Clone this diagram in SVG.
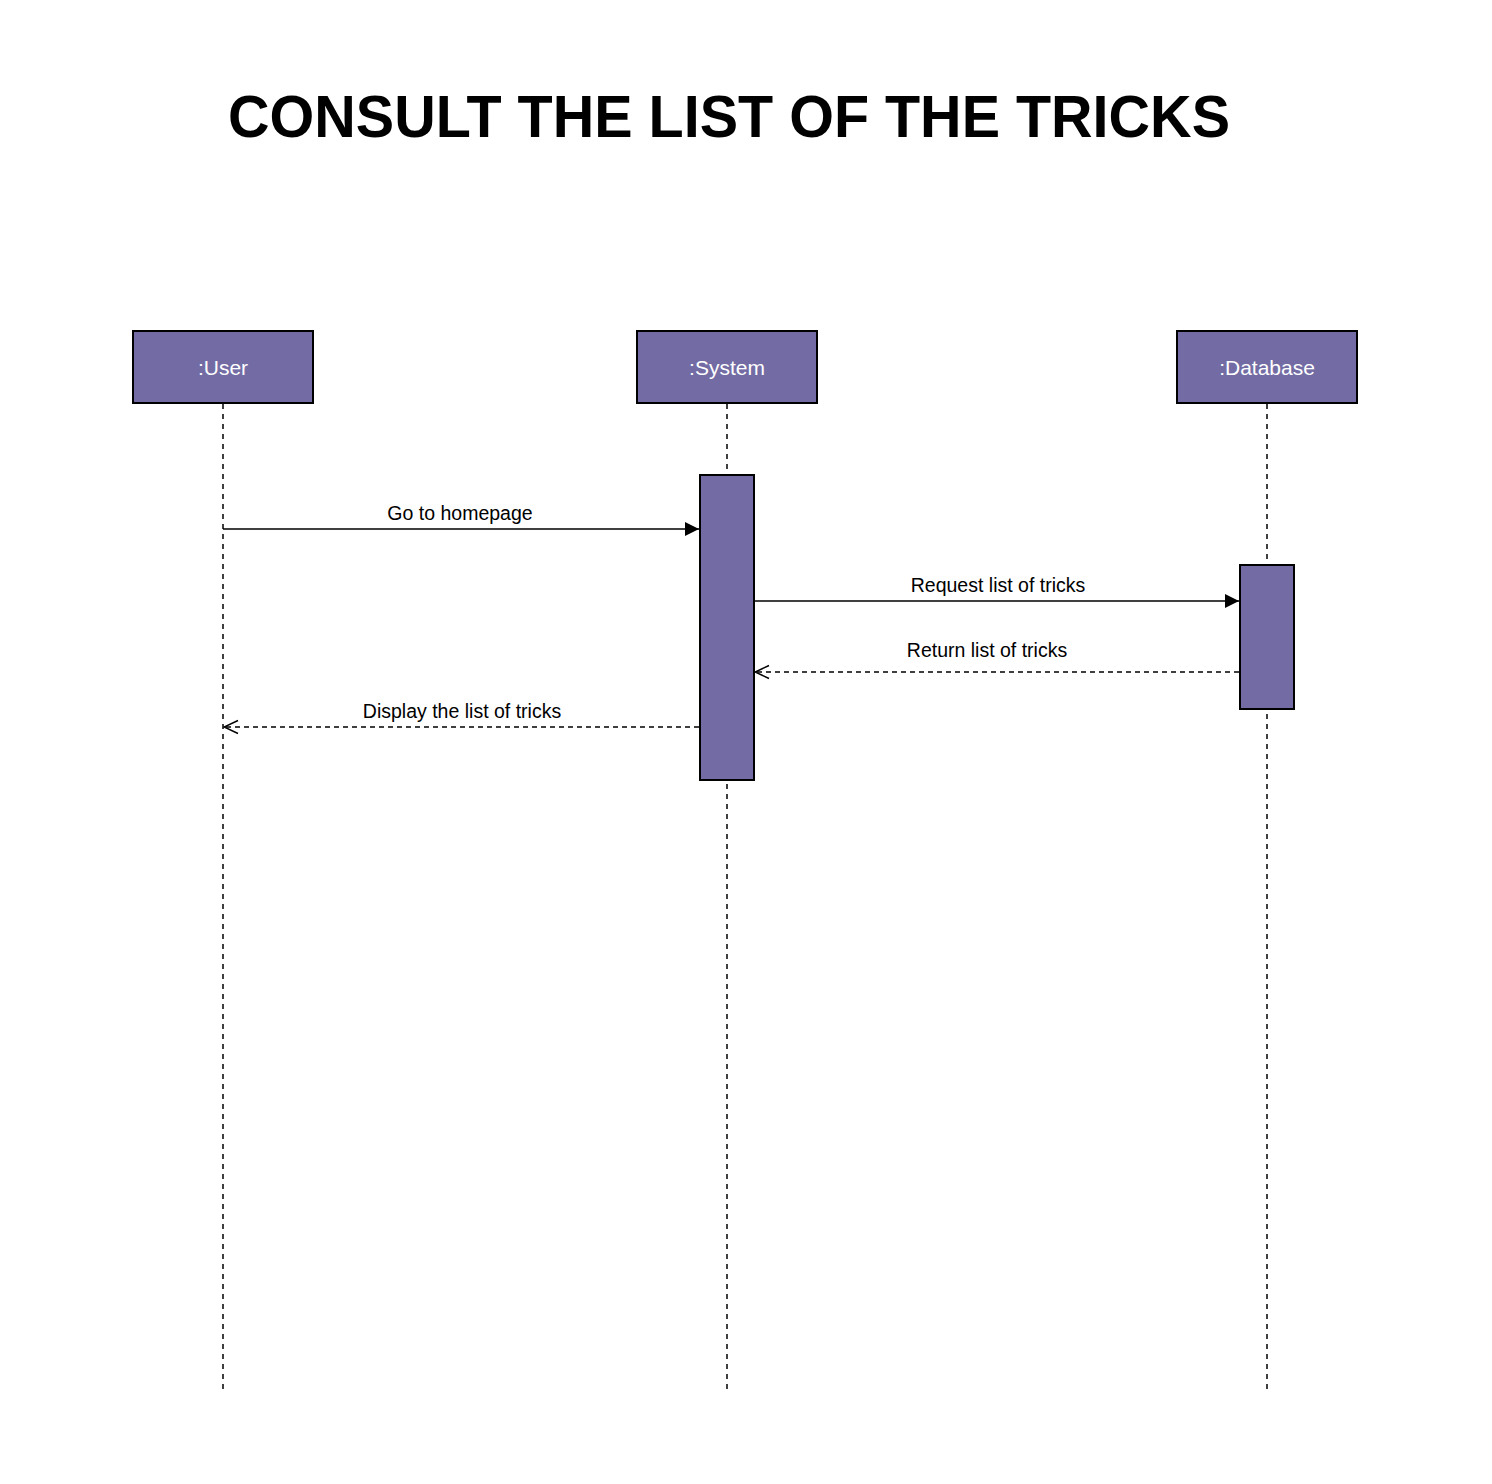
<svg xmlns="http://www.w3.org/2000/svg" width="1492" height="1484" viewBox="0 0 1492 1484">
<style>
.box{fill:#736ca4;stroke:#000;stroke-width:2}
.lbl{font-family:"Liberation Sans",Arial,sans-serif;font-size:21px;fill:#fff;text-anchor:middle}
.life{stroke:#000;stroke-width:1.5;stroke-dasharray:5 5;fill:none}
.msg{stroke:#000;stroke-width:1.5;fill:none}
.ret{stroke:#000;stroke-width:1.5;stroke-dasharray:5 4;fill:none}
.mt{font-family:"Liberation Sans",Arial,sans-serif;font-size:19.5px;fill:#000;text-anchor:middle}
</style>
<defs>
<marker id="filled" viewBox="0 0 14 14" refX="14" refY="7" markerWidth="14" markerHeight="14" markerUnits="userSpaceOnUse" orient="auto">
<path d="M0,0 L14,7 L0,14 Z" fill="#000"/>
</marker>
<marker id="open" viewBox="0 0 16 16" refX="15" refY="8" markerWidth="16" markerHeight="16" markerUnits="userSpaceOnUse" orient="auto">
<path d="M1,1.5 L15,8 L1,14.5" fill="none" stroke="#000" stroke-width="1.5"/>
</marker>
</defs>
<rect width="1492" height="1484" fill="#fff"/>
<text x="729" y="137" font-family="'Liberation Sans',Arial,sans-serif" font-weight="bold" font-size="60" text-anchor="middle" textLength="1002" lengthAdjust="spacingAndGlyphs">CONSULT THE LIST OF THE TRICKS</text>
<g id="lifelines">
<line class="life" x1="223" y1="404" x2="223" y2="1392"/>
<line class="life" x1="727" y1="404" x2="727" y2="1392"/>
<line class="life" x1="1267" y1="404" x2="1267" y2="1392"/>
</g>
<g id="user"><rect class="box" x="133" y="331" width="180" height="72"/><text class="lbl" x="223" y="375">:User</text></g>
<g id="system"><rect class="box" x="637" y="331" width="180" height="72"/><text class="lbl" x="727" y="375">:System</text></g>
<g id="database"><rect class="box" x="1177" y="331" width="180" height="72"/><text class="lbl" x="1267" y="375">:Database</text></g>
<g id="system-activation"><rect class="box" x="700" y="475" width="54" height="305"/></g>
<g id="database-activation"><rect class="box" x="1240" y="565" width="54" height="144"/></g>
<g id="connectors">
<line class="msg" x1="223" y1="529" x2="699" y2="529" marker-end="url(#filled)"/>
<text class="mt" x="460" y="520">Go to homepage</text>
<line class="msg" x1="755" y1="601" x2="1239" y2="601" marker-end="url(#filled)"/>
<text class="mt" x="998" y="592">Request list of tricks</text>
<line class="ret" x1="1239" y1="672" x2="755" y2="672" marker-end="url(#open)"/>
<text class="mt" x="987" y="657">Return list of tricks</text>
<line class="ret" x1="699" y1="727" x2="224" y2="727" marker-end="url(#open)"/>
<text class="mt" x="462" y="718">Display the list of tricks</text>
</g>
</svg>
